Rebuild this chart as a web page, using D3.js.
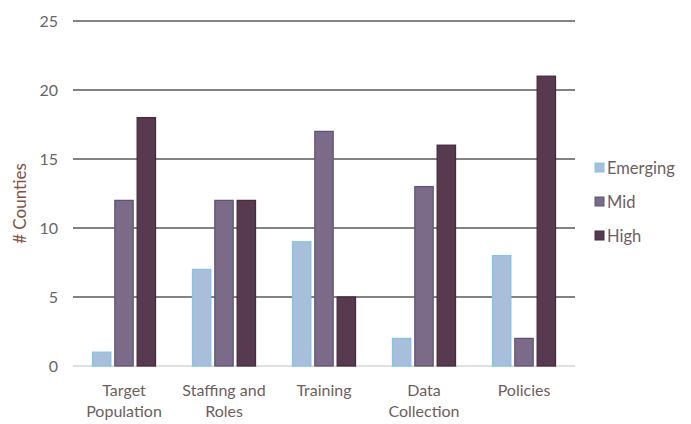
<!DOCTYPE html>
<html>
<head>
<meta charset="utf-8">
<script src="https://cdn.jsdelivr.net/npm/d3@7"></script>
<style>
  html, body { margin: 0; padding: 0; background: #fff; }
  svg { display: block; font-family: Lato, "Open Sans", sans-serif; }
</style>
</head>
<body>
<svg id="chart" width="691" height="424"></svg>
<script>
// Readiness areas and the number of counties at each stage
const categories = [["Target", "Population"], ["Staffing and", "Roles"], ["Training"], ["Data", "Collection"], ["Policies"]];
const seriesNames = ["Emerging", "Mid", "High"];
const emerging = [1, 7, 9, 2, 8];
const mid = [12, 12, 17, 13, 2];
const high = [18, 12, 5, 16, 21];
const yTicks = [0, 5, 10, 15, 20, 25];

const seriesValues = [emerging, mid, high];
const colors = ["#a9bedb", "#7b6b89", "#573a4f"];
const strokes = ["#84c4e4", "#5f5478", "#472b3e"];

const svg = d3.select("#chart");
const margin = { left: 74, right: 117, top: 21, bottom: 58 };
const W = 691, H = 424;

const catIndex = categories.map((d, i) => i);
const x0 = d3.scaleBand().domain(catIndex).range([margin.left, W - margin.right]).paddingInner(0.37).paddingOuter(0.185);
const x1 = d3.scaleBand().domain(d3.range(seriesNames.length)).range([0, x0.bandwidth()]).paddingInner(0.18);
const y = d3.scaleLinear().domain([0, 25]).range([H - margin.bottom, margin.top]);

// Horizontal gridlines
const grid = svg.append("g");
grid.selectAll("line").data(yTicks).join("line")
  .attr("x1", margin.left - 1).attr("x2", W - margin.right + 1)
  .attr("y1", d => y(d)).attr("y2", d => y(d))
  .attr("stroke", d => d === 0 ? "#d6d6d6" : "#5a5a5a")
  .attr("stroke-width", d => d === 0 ? 1.5 : 1.4);

// Y axis labels
const yAxis = svg.append("g").attr("transform", `translate(${margin.left - 16},0)`)
  .call(d3.axisLeft(y).tickValues(yTicks).tickSize(0).tickPadding(0));
yAxis.select(".domain").remove();
yAxis.selectAll("text").attr("font-size", 16).attr("fill", "#666")
  .attr("font-family", "Lato, 'Open Sans', sans-serif");

// Bars
seriesValues.forEach((vals, s) => {
  svg.append("g").selectAll("rect").data(vals).join("rect")
    .attr("x", (d, i) => x0(i) + x1(s))
    .attr("width", x1.bandwidth())
    .attr("y", d => y(d))
    .attr("height", d => y(0) - y(d))
    .attr("fill", colors[s])
    .attr("stroke", strokes[s])
    .attr("stroke-width", 1.3);
});

// Category labels
const catG = svg.append("g");
categories.forEach((lines, i) => {
  const t = catG.append("text")
    .attr("x", x0(i) + x0.bandwidth() / 2)
    .attr("y", y(0) + 30)
    .attr("text-anchor", "middle")
    .attr("font-size", 16)
    .attr("fill", "#6e5e5e");
  lines.forEach((ln, k) => {
    t.append("tspan").attr("x", x0(i) + x0.bandwidth() / 2).attr("dy", k === 0 ? 0 : 21).text(ln);
  });
});

// Y axis title
svg.append("text")
  .attr("transform", `translate(26,${(y(0) + y(25)) / 2 + 10}) rotate(-90)`)
  .attr("text-anchor", "middle")
  .attr("font-size", 17)
  .attr("fill", "#84523f")
  .text("# Counties");

// Legend
const legend = svg.append("g").attr("transform", "translate(595,168)");
seriesNames.forEach((name, s) => {
  const g = legend.append("g").attr("transform", `translate(0,${s * 34})`);
  g.append("rect").attr("x", 0).attr("y", -5).attr("width", 9).attr("height", 9)
    .attr("fill", colors[s]).attr("stroke", strokes[s]);
  g.append("text").attr("x", 12).attr("y", 0).attr("dy", "0.35em")
    .attr("font-size", 16.5).attr("fill", "#6e5e5e").text(name);
});
</script>
</body>
</html>
